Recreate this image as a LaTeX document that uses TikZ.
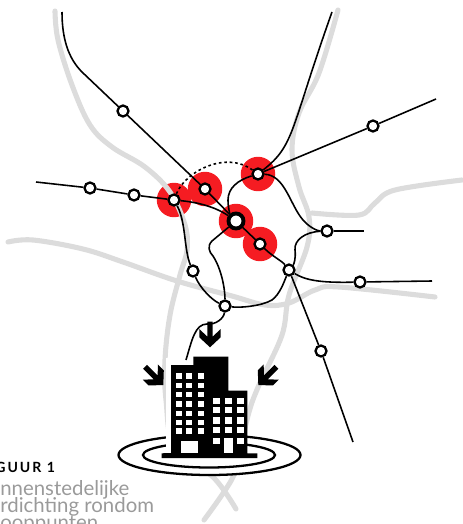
\documentclass[tikz,border=0pt]{standalone}
\usepackage{fontspec}
\setmainfont{Lato}
\usetikzlibrary{positioning}
\definecolor{myred}{HTML}{F51C22}
\definecolor{roadgray}{HTML}{DCDCDC}
\definecolor{textgray}{HTML}{9A9A9A}
\newcommand{\capfont}{\fontsize{11.6pt}{9.4pt}\selectfont\setlength{\lineskiplimit}{-20pt}}
\tikzset{
  road/.style={draw=roadgray, line width=2.9pt, line cap=round},
  metro/.style={draw=black, line width=0.9pt},
  dotline/.style={draw=black, line width=0.9pt, dash pattern=on 1.5pt off 1.6pt},
  halte/.style={circle, draw, fill=white, line width=1.3pt, minimum size=0.22cm, inner sep=0pt},
  hub/.style={halte, line width=2.2pt, minimum size=0.3cm},
  spot/.style={circle, fill=myred, minimum size=0.69cm, inner sep=0pt},
  ring/.style={draw=black, fill=white, line width=1.3pt},
  window/.style={fill=white},
  caphead/.style={font=\bfseries\fontsize{8pt}{8pt}\selectfont\addfontfeature{LetterSpace=14}, inner sep=0pt, anchor=base west},
  captext/.style={font=\capfont, text=textgray, inner sep=0pt, anchor=base west, align=left},
  pics/pijl/.style={code={
    \fill[black] (-2.7,-25.7) -- (2.7,-25.7) -- (2.7,-10.7) -- (10.7,-18.3) -- (10.7,-10) -- (0,0)
      -- (-10.7,-10) -- (-10.7,-18.3) -- (-2.7,-10.7) -- cycle;
  }},
}
\begin{document}
\begin{tikzpicture}[x=0.02cm, y=-0.02cm]
  \useasboundingbox (0,0) rectangle (463,524);
  % rode vlekken
  \node[spot] (s1) at (174,200) {};
  \node[spot] (s2) at (205,189) {};
  \node[spot] (s3) at (236,221) {};
  \node[spot] (s4) at (260,244) {};
  \node[spot] (s5) at (258,174) {};
  % wegen
  \draw[road] plot[smooth, tension=.6] coordinates {(55,11) (58,40) (72,85) (90,125) (112,147) (145,167) (170,192) (185,225) (187,250) (180,275) (170,315) (165,360) (166,400) (175,450) (213,477) (236,509)};
  \draw[road] plot[smooth, tension=.6] coordinates {(338,10) (319,73) (299,113) (292,150) (299,187) (309,217) (307,247) (289,295) (282,335) (259,385) (249,412) (240,450) (232,479) (204,520)};
  \draw[road] plot[smooth, tension=.6] coordinates {(8,242) (33,240) (83,249) (123,262) (177,281) (232,296) (265,305) (289,303) (315,290) (339,287) (435,297)};
  \draw[road] plot[smooth, tension=.6] coordinates {(312,213) (359,215) (375,203) (395,190) (462,180)};
  % haltes
  \node[halte] (a) at (123,111) {};
  \node[halte] (b) at (90,188) {};
  \node[halte] (c) at (134,195) {};
  \node[halte] (d) at (174,200) {};
  \node[halte] (e) at (205,189) {};
  \node[hub] (f) at (236,221) {};
  \node[halte] (g) at (260,244) {};
  \node[halte] (h) at (258,174) {};
  \node[halte] (i) at (373,126) {};
  \node[halte] (j) at (327,231) {};
  \node[halte] (k) at (289,270) {};
  \node[halte] (l) at (360,282) {};
  \node[halte] (m) at (321,351) {};
  \node[halte] (n) at (193,271) {};
  \node[halte] (o) at (225,306) {};
  \coordinate (e1) at (62,12);
  \coordinate (e2) at (36,182);
  \coordinate (e3) at (332,12);
  \coordinate (e4) at (436,99);
  \coordinate (e5) at (364,231);
  \coordinate (e6) at (432,281);
  \coordinate (e7) at (353,442);
  \coordinate (e8) at (186,360);
  % lijnen
  \draw[metro] (e1) .. controls (62,38) and (68,58) .. (82,72) -- (a);
  \draw[metro] (a) -- (e); \draw[metro] (e) -- (f); \draw[metro] (f) -- (g);
  \draw[metro] (g) .. controls (272,256) and (282,261) .. (k);
  \draw[metro] (e2) -- (b); \draw[metro] (b) -- (c); \draw[metro] (c) -- (d);
  \draw[metro] (d) .. controls (205,203) and (220,210) .. (f);
  \draw[metro] (h) .. controls (238,180) and (228,188) .. (228,200) .. controls (228,208) and (230,214) .. (f);
  \draw[metro] (f) -- (212,241) .. controls (207,246) and (209,252) .. (213,256) .. controls (222,270) and (225,290) .. (o);
  \draw[metro] (o) .. controls (224,318) and (216,325) .. (207,324) .. controls (195,324) and (192,340) .. (e8);
  \draw[metro] (d) .. controls (186,222) and (184,250) .. (n);
  \draw[metro] (n) .. controls (200,288) and (212,300) .. (o);
  \draw[metro] (o) .. controls (240,308) and (262,306) .. (272,300) .. controls (280,294) and (284,282) .. (k);
  \draw[metro] (h) .. controls (295,145) and (290,130) .. (e3);
  \draw[metro] (h) -- (i); \draw[metro] (i) -- (e4);
  \draw[metro] (h) .. controls (285,175) and (290,205) .. (303,220) .. controls (310,228) and (318,231) .. (j);
  \draw[metro] (j) -- (e5);
  \draw[metro] (j) .. controls (305,232) and (294,240) .. (295,250) .. controls (296,258) and (294,264) .. (k);
  \draw[metro] (k) .. controls (305,280) and (320,283) .. (l);
  \draw[metro] (l) -- (e6);
  \draw[metro] (k) -- (m); \draw[metro] (m) -- (e7);
  \draw[dotline] (d) .. controls (185,172) and (225,150) .. (h);
  % gebouw en ringen
  \draw[ring] (209.5,455) ellipse [x radius=91, y radius=20];
  \draw[ring] (209,455) ellipse [x radius=66, y radius=12.5];
  \fill[white] (166,358) rectangle (171,453);
  \fill[black] (171,453) -- (171,365) -- (193.3,365) -- (193.3,356.7) -- (228.3,356.7) -- (228.3,390.7)
    -- (247.3,390.7) -- (247.3,453.3) -- (257.3,453.3) -- (257.3,458) -- (161.7,458) -- (161.7,453.3) -- cycle;
  \foreach \x in {178.7,189.3,200.7}
    \foreach \y in {376,385.7,394.7,404,413.3,422.3,431}
      \fill[window] (\x-2.9,\y-2.7) rectangle (\x+2.9,\y+2.7);
  \foreach \x in {216.7,228.3,240.7}
    \foreach \y in {400.7,410,420.3,430}
      \fill[window] (\x-3.3,\y-3.2) rectangle (\x+3.3,\y+3.2);
  \foreach \x in {216.7,240.7}
    \fill[window] (\x-3.3,441-3.2) rectangle (\x+3.3,441+3.2);
  \fill[window] (180.7,440.7) rectangle (198.3,452.7);
  \fill[window] (224.3,438) rectangle (232.7,453);
  % pijlen
  \pic at (210,347.3) {pijl};
  \pic[rotate=45] at (163.3,385) {pijl};
  \pic[rotate=-45] at (258.3,385) {pijl};
  % bijschrift
  \node[caphead] (kop) at (-5,472) {GUUR 1};
  \node[captext] (tekst) at (0,529) {nnenstedelijke\\rdichting rondom\\ooppunten};
\end{tikzpicture}
\end{document}
